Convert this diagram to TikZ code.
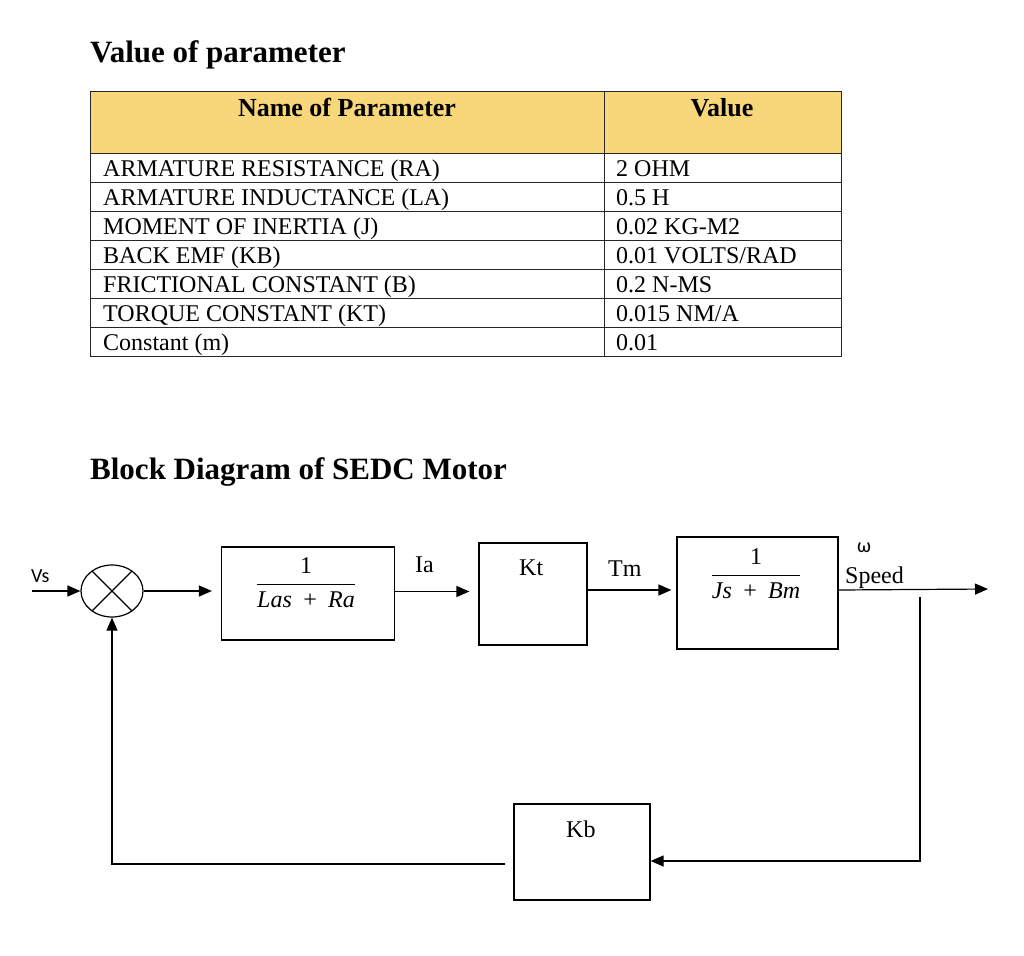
\documentclass[tikz,border=0pt]{standalone}
\usepackage{amsmath}
\usepackage{fontspec}
\setmainfont{Liberation Serif}
\newfontfamily\carl{Carlito}
\usetikzlibrary{arrows.meta,shapes.geometric,calc}
\definecolor{hdr}{HTML}{F8D77A}
\newcommand{\myfrac}[2]{$\dfrac{\text{#1}}{\text{#2}}$}
\begin{document}
\begin{tikzpicture}[x=1pt,y=-1pt,
  tline/.style={line width=1pt, draw=black!85},
  cell/.style={anchor=base west, inner sep=0pt, font=\fontsize{24}{24}\selectfont},
  hcell/.style={anchor=base, inner sep=0pt, font=\fontsize{26}{26}\selectfont\bfseries},
  ttl/.style={anchor=base west, inner sep=0pt, font=\fontsize{31}{31}\selectfont\bfseries},
  blk/.style={draw, line width=1.2pt, rectangle, inner sep=0pt},
  lbl/.style={anchor=base west, inner sep=0pt, font=\fontsize{24}{24}\selectfont},
  frac/.style={inner sep=0pt, font=\fontsize{24}{24}\selectfont},
  arr/.style={line width=1.2pt, -{Triangle[length=13pt,width=11pt]}},
  ln/.style={line width=1.2pt}]
\useasboundingbox (0,0) rectangle (1024,955);

% titles
\node[ttl] (t1) at (90,63) {Value of parameter};
\node[ttl] (t2) at (90,479) {Block Diagram of SEDC Motor};

% table
\fill[hdr] (90,92) rectangle (841,153);
\draw[tline] (90,92) rectangle (841,356);
\draw[tline] (604,92) -- (604,356);
\foreach \y in {153,182,211,240,269,298,327} \draw[tline] (90,\y) -- (841,\y);
\node[hcell] (h1) at (347,117) {Name of Parameter};
\node[hcell] (h2) at (722,117) {Value};
\node[cell] (r1a) at (103,176) {ARMATURE RESISTANCE (RA)};
\node[cell] (r1b) at (616,176) {2 OHM};
\node[cell] (r2a) at (103,205) {ARMATURE INDUCTANCE (LA)};
\node[cell] (r2b) at (616,205) {0.5 H};
\node[cell] (r3a) at (103,234) {MOMENT OF INERTIA (J)};
\node[cell] (r3b) at (616,234) {0.02 KG-M2};
\node[cell] (r4a) at (103,263) {BACK EMF (KB)};
\node[cell] (r4b) at (616,263) {0.01 VOLTS/RAD};
\node[cell] (r5a) at (103,292) {FRICTIONAL CONSTANT (B)};
\node[cell] (r5b) at (616,292) {0.2 N-MS};
\node[cell] (r6a) at (103,321) {TORQUE CONSTANT (KT)};
\node[cell] (r6b) at (616,321) {0.015 NM/A};
\node[cell] (r7a) at (103,350) {Constant (m)};
\node[cell] (r7b) at (616,350) {0.01};

% block diagram
\node[draw, ellipse, line width=1.2pt, minimum width=62pt, minimum height=52pt, inner sep=0pt] (sum) at (112,591) {};
\draw[ln] (sum.135) -- (sum.-45);
\draw[ln] (sum.45) -- (sum.-135);
\node[blk, minimum width=173pt, minimum height=93pt] (b1) at (308,593.5) {};
\node[blk, minimum width=108pt, minimum height=102pt] (b2) at (533,594) {};
\node[blk, minimum width=161pt, minimum height=112pt] (b3) at (757.5,593) {};
\node[blk, minimum width=136pt, minimum height=96pt] (kb) at (582,852) {};

\node[frac] (f1) at (306,583) {\myfrac{1}{\itshape Las \,+\, Ra}};
\node[frac] (f3) at (756,574) {\myfrac{1}{\itshape Js \,+\, Bm}};
\node[lbl] (kt) at (519,575) {Kt};
\node[lbl] (kbl) at (566,837) {Kb};
\node[lbl] (ia) at (415,572) {Ia};
\node[lbl] (tm) at (608,576) {Tm};
\node[lbl] (sp) at (845,583) {Speed};
\node[anchor=base west, inner sep=0pt, font=\carl\fontsize{20}{20}\selectfont] (vs) at (31,582) {Vs};
\node[anchor=base west, inner sep=0pt, font=\carl\fontsize{20}{20}\selectfont] (om) at (857,552) {ω};

\coordinate (vin) at (32,591);
\coordinate (out) at (988,589);
\coordinate (fbtop) at (920,597);
\draw[arr] (vin) -- (sum.west);
\draw[arr, shorten >=9pt] (sum.east) -- (sum.east -| b1.west);
\draw[arr, shorten >=9pt] ($(b1.east)+(0,-2)$) -- ($(b1.east -| b2.west)+(0,-2)$);
\draw[arr, shorten >=5pt] ($(b2.east)+(0,-4)$) -- ($(b2.east -| b3.west)+(0,-4)$);
\draw[arr] ($(b3.east)+(0,-3)$) -- (out);
\draw[arr] (fbtop) |- ($(kb.east)+(0,9)$);
\draw[arr] ($(kb.west)+(-8,12)$) -| (sum.south);
\end{tikzpicture}
\end{document}
